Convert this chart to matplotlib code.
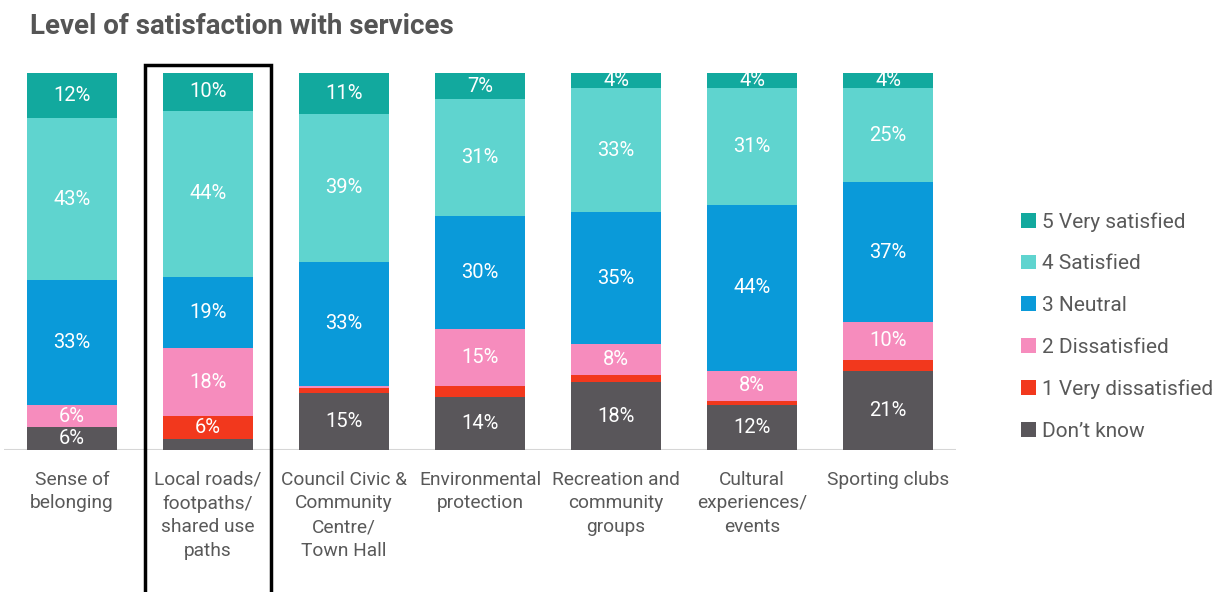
import numpy as np
import matplotlib.pyplot as plt
from matplotlib.patches import Rectangle, Patch

plt.rcParams['font.family'] = ['Roboto', 'DejaVu Sans']

categories = ["Sense of\nbelonging",
              "Local roads/\nfootpaths/\nshared use\npaths",
              "Council Civic &\nCommunity\nCentre/\nTown Hall",
              "Environmental\nprotection",
              "Recreation and\ncommunity\ngroups",
              "Cultural\nexperiences/\nevents",
              "Sporting clubs"]

# percentages, stacked from the bottom up
dont_know = [6, 3, 15, 14, 18, 12, 21]
very_dissatisfied = [0, 6, 1.5, 3, 2, 1, 3]
dissatisfied = [6, 18, 0.5, 15, 8, 8, 10]
neutral = [33, 19, 33, 30, 35, 44, 37]
satisfied = [43, 44, 39, 31, 33, 31, 25]
very_satisfied = [12, 10, 11, 7, 4, 4, 4]

series = [
    ("Don\u2019t know", dont_know, "#59565a"),
    ("1 Very dissatisfied", very_dissatisfied, "#f2381d"),
    ("2 Dissatisfied", dissatisfied, "#f68cbd"),
    ("3 Neutral", neutral, "#0a9ad9"),
    ("4 Satisfied", satisfied, "#5fd4cf"),
    ("5 Very satisfied", very_satisfied, "#12a99e"),
]

text_grey = "#595959"

fig = plt.figure(figsize=(12.12, 5.92), dpi=100)
ax = fig.add_axes([4 / 1212, 1 - 450 / 592, 952 / 1212, 377 / 592])

x = np.arange(len(categories))
bottom = np.zeros(len(categories))
for name, vals, color in series:
    vals = np.array(vals, dtype=float)
    ax.bar(x, vals, 0.66, bottom=bottom, color=color, zorder=2)
    for xi, v, b in zip(x, vals, bottom):
        if v >= 4:
            ax.text(xi, b + v / 2, f"{v:.0f}%", ha='center', va='center',
                    color='white', fontsize=14.5, zorder=3)
    bottom += vals

ax.axhline(0, color='#d6d6d6', lw=1.5, zorder=1)
ax.set_xlim(-0.5, 6.5)
ax.set_ylim(0, 100)
ax.set_yticks([])
ax.set_xticks(x)
ax.set_xticklabels(categories, fontsize=13.8, color=text_grey, linespacing=1.4)
ax.tick_params(axis='x', length=0, pad=15)
for s in ax.spines.values():
    s.set_visible(False)

# highlight box around the local roads bar
ax.add_patch(Rectangle((1 - 0.46, -60), 0.92, 162, fill=False,
                       edgecolor='black', lw=2.5, clip_on=False, zorder=4))

fig.text(30 / 1212, 1 - 27 / 592, "Level of satisfaction with services",
         fontsize=20, fontweight='bold', color='#555555', va='center')

handles = [Patch(facecolor=c, label=n) for n, _, c in series[::-1]]
fig.legend(handles=handles, loc='upper left',
           bbox_to_anchor=(1021 / 1212, 1 - 212 / 592), frameon=False,
           fontsize=15, labelcolor=text_grey, handlelength=0.7,
           handleheight=0.7, handletextpad=0.3, labelspacing=1.09,
           borderpad=0, borderaxespad=0)

fig.savefig("out.png", dpi=100)
